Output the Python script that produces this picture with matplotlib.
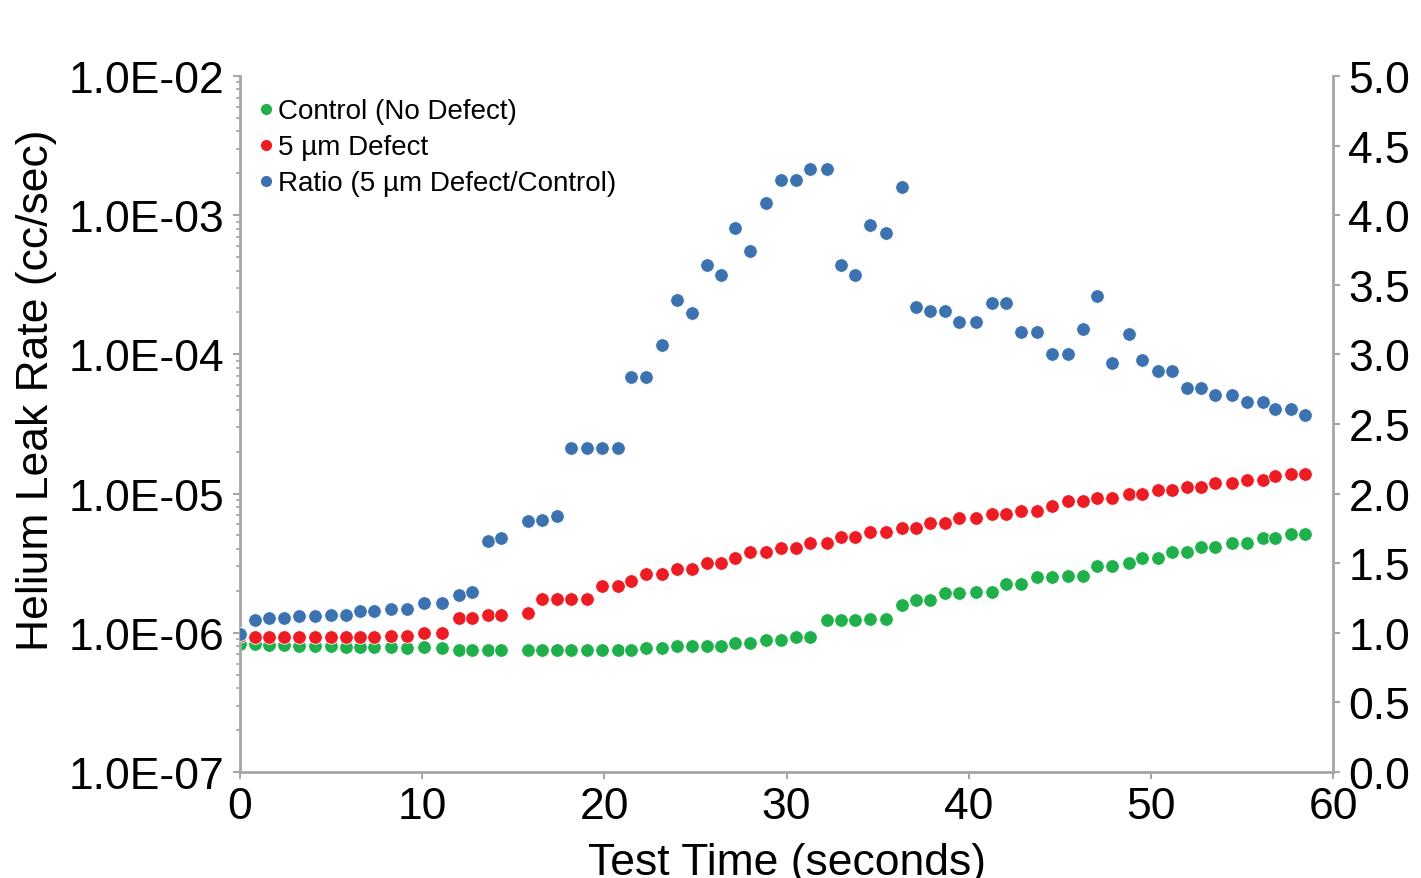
import matplotlib
matplotlib.use("Agg")
import matplotlib.pyplot as plt
from matplotlib.lines import Line2D
from matplotlib.ticker import FixedLocator, FuncFormatter, LogLocator, NullFormatter
import numpy as np

plt.rcParams['font.family'] = ['Liberation Sans', 'DejaVu Sans']

# test time (s)
time_s = [0.00, 0.82, 1.61, 2.41, 3.25, 4.12, 4.98, 5.82, 6.59, 7.37,
          8.29, 9.15, 10.10, 11.09, 12.02, 12.75, 13.60, 14.34, 15.79, 16.56,
          17.42, 18.15, 19.06, 19.87, 20.76, 21.46, 22.27, 23.18, 24.00, 24.82,
          25.61, 26.40, 27.17, 27.99, 28.87, 29.68, 30.52, 31.28, 32.20, 32.97,
          33.75, 34.58, 35.45, 36.32, 37.09, 37.87, 38.71, 39.48, 40.38, 41.26,
          42.04, 42.87, 43.76, 44.55, 45.43, 46.25, 47.05, 47.86, 48.78, 49.54,
          50.40, 51.15, 51.99, 52.73, 53.53, 54.46, 55.28, 56.15, 56.83, 57.70,
          58.44]

# helium leak rate, units of 1e-7 cc/sec
control_e7 = [8.31, 8.31, 8.21, 8.17, 8.08, 8.00, 8.00, 7.95, 7.95, 7.95,
              7.95, 7.82, 7.87, 7.74, 7.56, 7.56, 7.56, 7.56, 7.56, 7.56,
              7.56, 7.56, 7.56, 7.56, 7.52, 7.56, 7.74, 7.74, 8.00, 8.00,
              8.08, 8.08, 8.41, 8.41, 8.92, 8.92, 9.38, 9.38, 12.36, 12.36,
              12.36, 12.56, 12.56, 15.84, 17.20, 17.20, 19.42, 19.42, 19.74, 19.74,
              22.4, 22.4, 25.0, 25.0, 25.6, 25.6, 30.0, 30.0, 31.9, 34.3,
              34.3, 38.1, 38.1, 41.3, 41.3, 44.2, 44.2, 47.7, 47.7, 51.3,
              51.3]

defect_e7 = [9.44, 9.28, 9.28, 9.28, 9.28, 9.28, 9.28, 9.28, 9.38, 9.38,
             9.53, 9.53, 9.92, 9.92, 12.77, 12.77, 13.42, 13.42, 13.81, 17.49,
             17.49, 17.49, 17.49, 21.58, 21.58, 23.67, 26.45, 26.45, 28.87, 28.87,
             31.72, 31.72, 34.46, 38.06, 38.06, 40.46, 40.46, 44.18, 44.18, 48.78,
             48.78, 53.25, 53.25, 56.89, 56.89, 61.80, 61.80, 66.80, 66.80, 71.5,
             71.5, 74.61, 74.61, 81.88, 88.92, 88.92, 93.44, 93.44, 99.33, 99.33,
             106.6, 106.6, 112.1, 112.1, 119.2, 119.2, 125.9, 125.9, 133.8, 138.3,
             138.3]

# ratio 5 um defect / control (right axis)
ratio = [0.99, 1.094, 1.108, 1.108, 1.121, 1.121, 1.13, 1.13, 1.159, 1.159,
         1.173, 1.173, 1.212, 1.212, 1.272, 1.291, 1.66, 1.68, 1.80, 1.81,
         1.84, 2.33, 2.33, 2.33, 2.33, 2.84, 2.84, 3.07, 3.39, 3.30,
         3.64, 3.57, 3.91, 3.74, 4.09, 4.25, 4.25, 4.33, 4.33, 3.64,
         3.57, 3.93, 3.87, 4.20, 3.34, 3.31, 3.31, 3.23, 3.23, 3.37,
         3.37, 3.16, 3.16, 3.00, 3.00, 3.185, 3.42, 2.94, 3.15, 2.96,
         2.88, 2.88, 2.76, 2.76, 2.71, 2.71, 2.66, 2.66, 2.61, 2.61,
         2.565]

labels = ["Control (No Defect)", "5 µm Defect", "Ratio (5 µm Defect/Control)"]
colors = ["#1fb04c", "#ed1c24", "#3d72b0"]

control = np.array(control_e7) * 1e-7
defect = np.array(defect_e7) * 1e-7

axis_grey = "#a6a6a6"
fs = 32

fig = plt.figure(figsize=(14.21, 8.79), dpi=100)
ax = fig.add_axes([0.1689, 0.1206, 0.7692, 0.7918])
ax2 = ax.twinx()

mk = dict(ls="none", marker="o", markersize=9.8, markeredgecolor="white", markeredgewidth=0.6)
ax.plot(time_s, control, color=colors[0], **mk)
ax.plot(time_s, defect, color=colors[1], **mk)
ax2.plot(time_s, ratio, color=colors[2], **mk)

ax.set_yscale("log")
ax.set_ylim(1e-7, 1e-2)
ax.set_xlim(0, 60)
ax.set_xticks(np.arange(0, 61, 10))
ax.yaxis.set_major_locator(FixedLocator([1e-7, 1e-6, 1e-5, 1e-4, 1e-3, 1e-2]))
ax.yaxis.set_major_formatter(FuncFormatter(lambda v, p: "%.1E" % v))
ax.yaxis.set_minor_locator(LogLocator(base=10, subs=np.arange(2, 10)))
ax.yaxis.set_minor_formatter(NullFormatter())

ax2.set_ylim(0, 5)
ax2.set_yticks(np.arange(0, 5.01, 0.5))
ax2.yaxis.set_major_formatter(FuncFormatter(lambda v, p: "%.1f" % v))

for a in (ax, ax2):
    for s in a.spines.values():
        s.set_visible(False)
ax.spines["left"].set_visible(True)
ax.spines["bottom"].set_visible(True)
ax2.spines["right"].set_visible(True)
for s in (ax.spines["left"], ax.spines["bottom"], ax2.spines["right"]):
    s.set_color(axis_grey)
    s.set_linewidth(2)

ax.tick_params(axis="both", which="major", direction="out", length=5, width=1.5,
               color=axis_grey, labelsize=fs, pad=6)
ax.tick_params(axis="y", which="minor", direction="out", length=3, width=1.2, color=axis_grey)
ax.tick_params(axis="x", pad=5)
ax2.tick_params(axis="y", direction="out", length=5, width=1.5, color=axis_grey,
                labelsize=fs, pad=6)

ax.set_xlabel("Test Time (seconds)", fontsize=fs, labelpad=11)
ax.set_ylabel("Helium Leak Rate (cc/sec)", fontsize=fs)
ax.yaxis.set_label_coords(-0.167, 0.55)
# right axis title is cut off at the figure edge in the original
fig.text(1415 / 1421, 0.55, "Leak Rate Ratio", rotation=270, fontsize=fs,
         ha="left", va="center")

handles = [Line2D([], [], ls="none", marker="o", markersize=7, color=c) for c in colors]
leg = ax2.legend(handles, labels, loc="upper left", bbox_to_anchor=(0.017, 0.968),
                 frameon=False, fontsize=20, handlelength=0.5, handletextpad=0.2,
                 labelspacing=0.36, borderpad=0, borderaxespad=0)

fig.savefig("out.png", dpi=100)
